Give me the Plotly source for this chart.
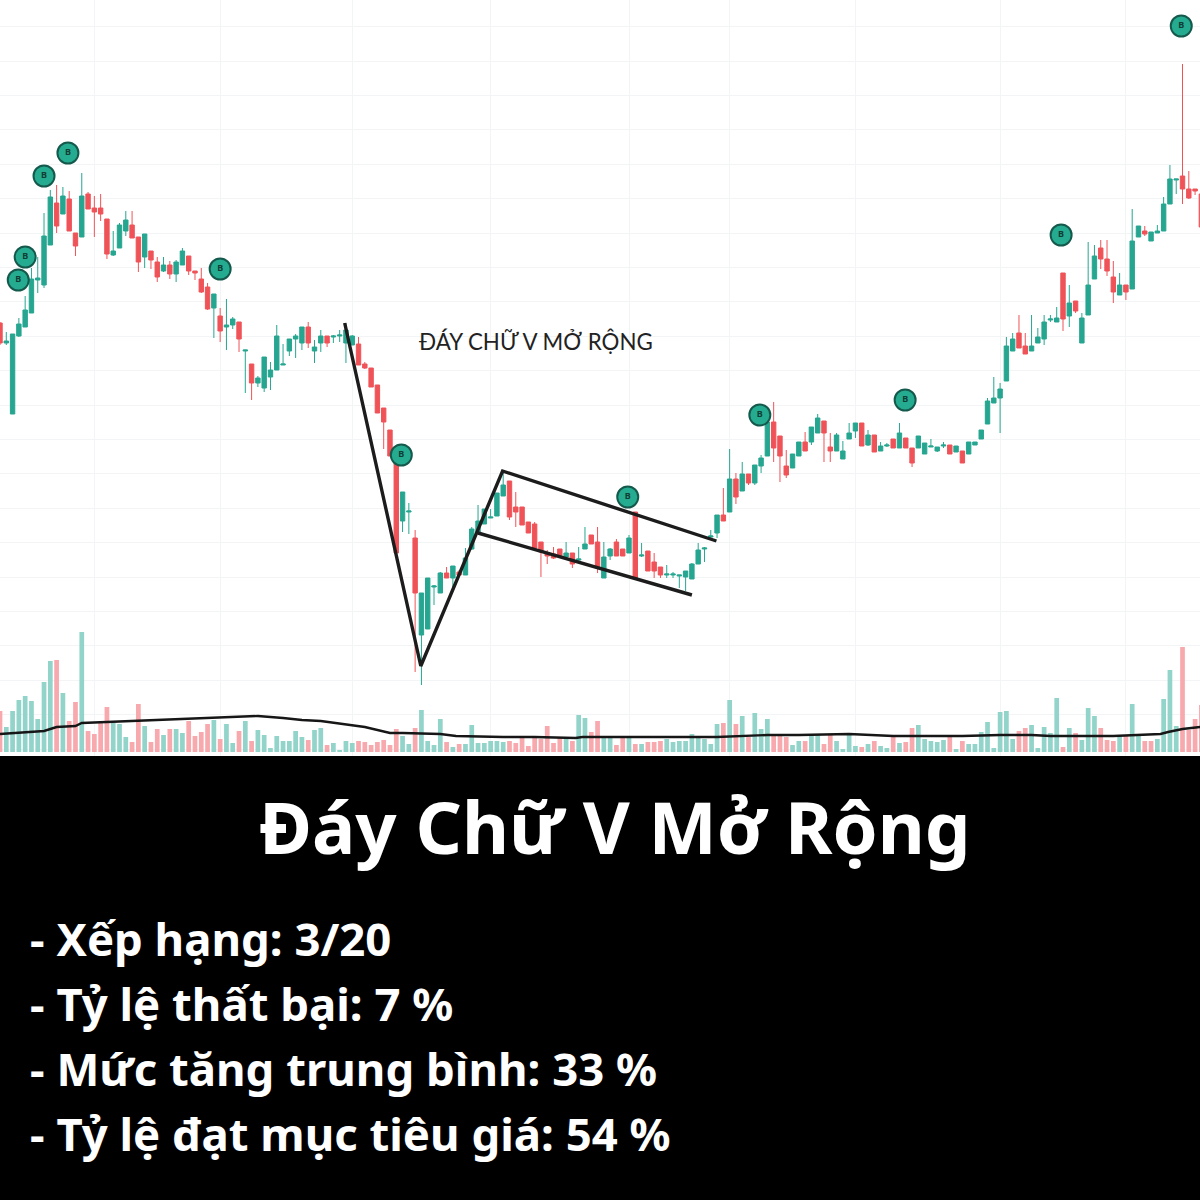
"""Bottom-of-V pattern card: candles, volume and a text panel underneath."""

import plotly.graph_objects as go

# price units: chart area runs 0..756
opens = [433, 413, 342, 420, 429, 443, 476, 471, 511, 553,
         542, 557, 523, 519, 562, 548, 548, 537, 501, 508,
         525, 531, 519, 499, 505, 494, 485, 491, 482, 491,
         500, 485, 477, 469, 448, 440, 429, 431, 434, 405,
         392, 373, 368, 379, 386, 391, 405, 417, 413, 429,
         405, 413, 420, 419, 420, 413, 411, 412, 392, 388,
         371, 348, 326, 299, 235, 244, 218, 121, 127, 169,
         163, 183, 178, 184, 181, 207, 223, 232, 238, 240,
         260, 275, 249, 249, 234, 232, 214, 203, 202, 207,
         199, 203, 196, 207, 221, 214, 178, 200, 214, 207,
         203, 244, 200, 205, 194, 189, 181, 181, 180, 179,
         177, 192, 207, 219, 223, 241, 244, 277, 265, 282,
         273, 290, 300, 334, 320, 290, 288, 300, 314, 314,
         323, 335, 309, 305, 297, 317, 325, 333, 311, 321,
         305, 310, 317, 308, 318, 308, 308, 302, 309, 305,
         310, 311, 304, 305, 302, 311, 317, 332, 353, 358,
         375, 405, 423, 410, 405, 413, 417, 436, 434, 483,
         440, 455, 413, 441, 477, 508, 497, 479, 461, 471,
         467, 519, 525, 515, 523, 525, 552, 576, 580, 567,
         567, 562]
highs = [434, 424, 422, 438, 460, 488, 499, 543, 566, 571,
         569, 565, 523, 583, 564, 560, 562, 537, 525, 533,
         545, 545, 519, 522, 505, 499, 499, 495, 496, 508,
         500, 485, 488, 473, 462, 448, 457, 439, 434, 406,
         392, 380, 399, 394, 431, 412, 417, 422, 429, 434,
         416, 426, 420, 421, 426, 433, 421, 419, 394, 388,
         371, 348, 326, 301, 264, 253, 226, 163, 178, 171,
         184, 189, 190, 186, 208, 229, 251, 247, 247, 263,
         283, 275, 264, 249, 234, 234, 214, 206, 209, 207,
         214, 203, 209, 229, 221, 229, 214, 208, 217, 207,
         221, 244, 213, 205, 203, 189, 191, 184, 181, 185,
         193, 213, 209, 226, 241, 268, 307, 283, 294, 282,
         291, 301, 334, 354, 320, 306, 302, 314, 324, 329,
         342, 335, 323, 323, 315, 333, 333, 333, 326, 321,
         314, 313, 317, 333, 318, 308, 320, 313, 317, 309,
         314, 311, 310, 305, 314, 314, 326, 358, 379, 373,
         419, 423, 441, 423, 441, 428, 441, 441, 449, 483,
         471, 455, 443, 514, 511, 516, 516, 495, 483, 471,
         547, 530, 530, 524, 531, 559, 591, 577, 692, 585,
         567, 562]
lows = [411, 411, 342, 419, 429, 443, 463, 468, 511, 523,
        542, 525, 500, 519, 547, 519, 535, 497, 500, 508,
        520, 518, 484, 488, 487, 474, 484, 477, 474, 491,
        481, 476, 463, 446, 418, 414, 406, 427, 404, 363,
        356, 369, 364, 366, 386, 391, 400, 398, 406, 408,
        393, 404, 409, 413, 414, 393, 411, 391, 387, 369,
        343, 307, 300, 201, 224, 222, 84, 71, 127, 151,
        163, 178, 169, 179, 181, 206, 223, 232, 238, 240,
        260, 236, 229, 231, 223, 206, 179, 192, 197, 200,
        198, 188, 193, 207, 212, 183, 178, 196, 200, 200,
        203, 177, 199, 185, 178, 178, 178, 178, 168, 165,
        177, 192, 194, 218, 218, 235, 244, 252, 265, 271,
        271, 283, 300, 294, 274, 278, 288, 300, 305, 311,
        323, 294, 294, 305, 297, 317, 318, 310, 310, 304,
        305, 309, 308, 308, 308, 289, 308, 302, 309, 304,
        308, 302, 304, 293, 302, 311, 317, 332, 353, 323,
        375, 405, 408, 402, 405, 413, 411, 434, 434, 425,
        429, 443, 413, 441, 477, 487, 480, 453, 461, 456,
        467, 519, 520, 515, 523, 525, 552, 562, 552, 557,
        561, 529]
closes = [413, 415, 422, 432, 446, 477, 478, 520, 559, 530,
          560, 525, 510, 560, 547, 544, 542, 502, 505, 531,
          536, 518, 494, 522, 496, 479, 491, 482, 494, 505,
          485, 483, 464, 447, 462, 425, 431, 437, 417, 406,
          373, 378, 399, 386, 420, 392, 417, 420, 429, 413,
          409, 420, 413, 420, 421, 426, 420, 391, 388, 369,
          343, 334, 300, 203, 264, 245, 163, 163, 178, 170,
          183, 178, 190, 181, 198, 227, 235, 247, 239, 263,
          271, 239, 244, 231, 223, 208, 204, 200, 198, 200,
          203, 192, 197, 212, 212, 188, 199, 207, 200, 200,
          218, 177, 201, 185, 185, 181, 182, 182, 181, 185,
          192, 206, 208, 220, 241, 235, 277, 259, 282, 273,
          291, 298, 334, 308, 300, 281, 302, 314, 305, 329,
          338, 323, 305, 321, 305, 323, 333, 310, 321, 304,
          310, 311, 308, 323, 308, 293, 320, 313, 310, 309,
          311, 302, 310, 293, 314, 314, 326, 355, 358, 367,
          410, 417, 408, 402, 410, 419, 434, 437, 438, 437,
          453, 445, 438, 471, 500, 497, 485, 464, 471, 464,
          515, 530, 522, 524, 525, 552, 577, 577, 567, 558,
          565, 529]

volumes = [41, 25, 41, 52, 56, 51, 33, 70, 91, 92,
           59, 31, 50, 120, 21, 18, 29, 45, 29, 28,
           15, 10, 48, 26, 10, 23, 17, 23, 23, 19,
           31, 16, 20, 28, 32, 13, 28, 9, 21, 31,
           11, 22, 17, 4, 16, 11, 11, 21, 15, 12,
           22, 24, 7, 9, 2, 11, 9, 11, 10, 7,
           10, 12, 7, 23, 16, 8, 24, 42, 11, 7,
           33, 10, 5, 8, 8, 27, 9, 9, 11, 11,
           10, 11, 9, 15, 6, 15, 13, 26, 9, 15,
           15, 11, 37, 34, 20, 31, 15, 15, 7, 15,
           15, 8, 8, 10, 10, 11, 13, 10, 11, 11,
           18, 14, 13, 8, 28, 29, 52, 28, 36, 15,
           39, 23, 33, 17, 17, 15, 7, 11, 11, 17,
           18, 8, 18, 11, 3, 18, 6, 5, 8, 11,
           6, 4, 16, 9, 10, 24, 27, 13, 11, 10,
           12, 15, 3, 11, 8, 8, 20, 30, 4, 40,
           41, 13, 21, 24, 27, 4, 25, 19, 54, 5,
           24, 19, 12, 44, 36, 24, 12, 11, 17, 17,
           48, 17, 11, 11, 13, 53, 82, 26, 105, 22,
           33, 47]
volume_sides = ("rggggggggr" "grrgrrrrgg" "grrgrrgrgg" "rrrrgrggrg" "rggggggggr"
                "ggrggggrrr" "rrrrggrggg" "grgrgggggg" "grrrrrrrrr" "grggrrggrr"
                "grgrrrgggg" "gggggrgrgr" "gggrrrggrg" "grrggggrgr" "ggrgrrgggg"
                "grgrgggggg" "ggrrgggggr" "grgggrrrgr" "ggrrggggrr" "rr")

# average volume, read at the bends only
ma_index = [0, 7, 9, 12, 13, 21, 26, 32, 37, 41, 45, 48, 51, 55, 58, 62, 64, 70, 72.5,
            80, 85, 91.5, 92.6, 101, 114, 122, 127, 135, 142, 153, 159, 164, 167,
            177, 180, 184.5, 185.7, 188, 190.8]
ma_values = [18, 21, 25, 26, 29, 31, 33, 34, 35, 36, 34, 32, 31, 28, 25, 19, 19, 18, 16,
             15, 15, 14, 15, 15, 15, 17, 17, 18, 16, 16, 17, 17, 16,
             16, 17, 18, 20, 23, 25]

# hand drawn pattern lines
v_index = [54.8, 66.9, 79.9, 113.9]
v_price = [433, 90, 285, 215]
channel_index = [76, 110]
channel_price = [223, 161]

buy_index = [2.9, 4, 7, 10.8, 35, 63.8, 99.8, 120.8, 143.9, 168.7, 187.8]
buy_price = [476, 499, 580, 603, 487, 301, 259, 341, 356, 521, 730]

x_grid = [15, 35, 56, 78, 100, 116, 136, 159, 179]
price_grid = [729.4, 695, 660.6, 626.2, 591.8, 557.4, 523, 488.6, 454.2, 419.8, 385.4,
              351, 316.6, 282.2, 247.8, 213.4, 179, 144.6, 110.2, 75.8, 41.4, 7]

title_text = "Đáy Chữ V Mở Rộng"
chart_label = "ĐÁY CHỮ V MỞ RỘNG"
info_lines = ["- Xếp hạng: 3/20", "- Tỷ lệ thất bại: 7 %",
              "- Mức tăng trung bình: 33 %", "- Tỷ lệ đạt mục tiêu giá: 54 %"]
info_centers = [938, 1003, 1068, 1133]

GREEN = "#26a690"
RED = "#ef5358"
index = list(range(len(opens)))

fig = go.Figure()

fig.add_trace(go.Bar(
    x=index, y=volumes, yaxis="y2",
    marker=dict(color=["#92d4ca" if s == "g" else "#f8a9ae" for s in volume_sides], line_width=0),
    hoverinfo="skip", showlegend=False
))
fig.add_trace(go.Scatter(
    x=ma_index, y=ma_values, yaxis="y2", mode="lines",
    line=dict(color="#161616", width=2.4),
    hoverinfo="skip", showlegend=False
))
fig.add_trace(go.Candlestick(
    x=index, open=opens, high=highs, low=lows, close=closes,
    increasing=dict(line=dict(color=GREEN, width=1), fillcolor=GREEN),
    decreasing=dict(line=dict(color=RED, width=1), fillcolor=RED),
    whiskerwidth=0, showlegend=False
))

# Pattern outline on top of the candles
fig.add_trace(go.Scatter(
    x=v_index, y=v_price, mode="lines",
    line=dict(color="#1c1c1c", width=3.4),
    hoverinfo="skip", showlegend=False
))
fig.add_trace(go.Scatter(
    x=channel_index, y=channel_price, mode="lines",
    line=dict(color="#1c1c1c", width=3.4),
    hoverinfo="skip", showlegend=False
))

fig.add_trace(go.Scatter(
    x=buy_index, y=buy_price, mode="markers+text",
    text=["B"] * len(buy_index), textposition="middle center",
    textfont=dict(family="Noto Sans", size=9, color="#123d35", weight=700),
    marker=dict(size=21, color="#25ab90", line=dict(color="#14594c", width=2)),
    hoverinfo="skip", showlegend=False
))

fig.add_annotation(
    text=chart_label, xref="paper", yref="paper", x=536 / 1200, y=1 - 342 / 1200,
    xanchor="center", yanchor="middle", showarrow=False,
    font=dict(family="Lato", size=22.3, color="#222222")
)
fig.add_annotation(
    text=title_text, xref="paper", yref="paper", x=614 / 1200, y=1 - 826 / 1200,
    xanchor="center", yanchor="middle", showarrow=False,
    font=dict(family="Noto Sans", size=72.4, color="white", weight=700)
)
for line, center in zip(info_lines, info_centers):
    fig.add_annotation(
        text=line, xref="paper", yref="paper", x=28 / 1200, y=1 - center / 1200,
        xanchor="left", yanchor="middle", showarrow=False,
        font=dict(family="Noto Sans", size=45.5, color="white", weight=700)
    )

fig.update_layout(
    width=1200, height=1200,
    margin=dict(l=0, r=0, t=0, b=0),
    paper_bgcolor="black", plot_bgcolor="white",
    boxgap=0.3, boxgroupgap=0, bargap=0.25,
    showlegend=False,
    xaxis=dict(
        range=[0, 190.78], tickvals=x_grid, showticklabels=False, ticks="",
        showgrid=True, gridcolor="#f3f4f6", zeroline=False, rangeslider=dict(visible=False)
    ),
    yaxis=dict(
        domain=[0.37, 1], range=[0, 756], tickvals=price_grid, showticklabels=False, ticks="",
        showgrid=True, gridcolor="#f3f4f6", zeroline=False
    ),
    yaxis2=dict(
        domain=[0.37, 1], range=[-4, 752], overlaying="y", showgrid=False,
        showticklabels=False, ticks="", zeroline=False
    )
)

# page margin would push the figure off the window edge
fig.write_html(
    "out.html",
    config=dict(displayModeBar=False),
    post_script="document.body.style.margin='0';document.body.style.overflow='hidden';"
)
